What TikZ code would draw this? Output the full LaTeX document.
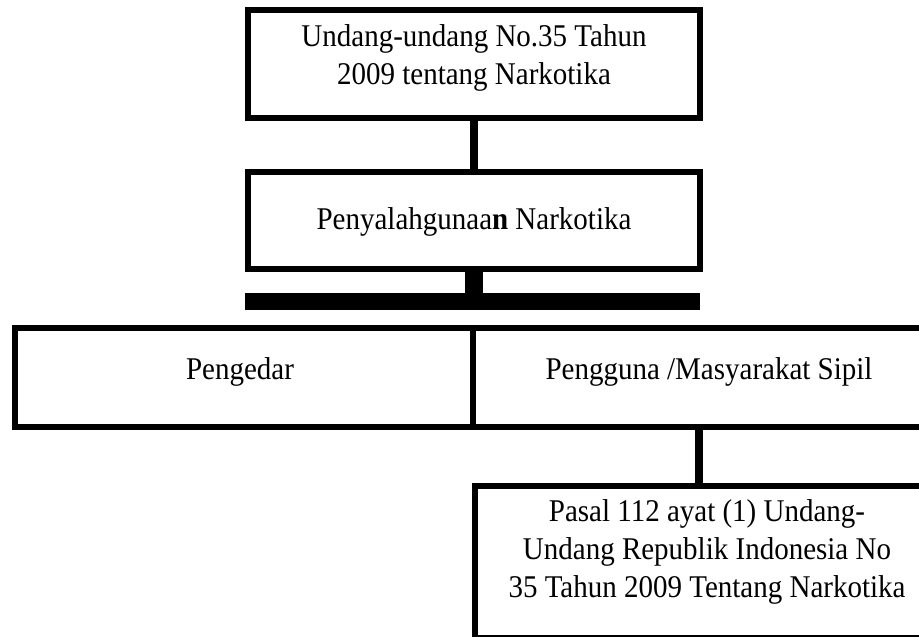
\documentclass[tikz,border=0pt]{standalone}
\usepackage{fontspec}
\usepackage{graphicx}
\setmainfont{Liberation Serif}
\newcommand{\reftext}[1]{\scalebox{1}[1.09]{\fontsize{29}{35}\selectfont\begin{tabular}{@{}c@{}}#1\end{tabular}}}
\begin{document}
\begin{tikzpicture}[x=1pt,y=-1pt,
  box/.style={draw=black,line width=6pt,rectangle,inner sep=0pt,outer sep=0pt,align=center},
  txt/.style={inner sep=0pt,outer sep=0pt},
  conn/.style={draw=black,line width=#1}]
\clip (0,0) rectangle (919,637);
\fill[white] (0,0) rectangle (919,637);
% boxes
\node[box,minimum width=452pt,minimum height=108pt] (top) at (474,64) {};
\node[txt] (toptxt) at (474,58) {\reftext{Undang-undang No.35 Tahun\\2009 tentang Narkotika}};
\node[box,minimum width=452pt,minimum height=97pt] (mid) at (474,220.5) {};
\node[txt] (midtxt) at (474,222) {\reftext{Penyalahgunaa\textbf{n} Narkotika}};
\node[fill=black,inner sep=0pt,outer sep=0pt,minimum width=455pt,minimum height=17pt] (bar) at (472.5,301.5) {};
\node[box,minimum width=458pt,minimum height=99pt] (lbox) at (244,377.5) {};
\node[txt] (ltxt) at (240,372) {\reftext{Pengedar}};
\node[box,minimum width=469pt,minimum height=99pt] (rbox) at (707.5,377.5) {};
\node[txt] (rtxt) at (709,372) {\reftext{Pengguna /Masyarakat Sipil}};
\node[box,minimum width=467pt,minimum height=152pt] (bbox) at (708.5,562) {};
\node[txt] (btxt) at (707,552) {\reftext{Pasal 112 ayat (1) Undang-\\Undang Republik Indonesia No\\35 Tahun 2009 Tentang Narkotika}};
% connectors
\coordinate (rc) at (699,0);
\draw[conn=8pt] (top.south) -- (mid.north);
\draw[conn=18pt] (mid.south) -- (mid.south |- bar.north);
\draw[conn=8pt] (rbox.south -| rc) -- (bbox.north -| rc);
\end{tikzpicture}
\end{document}
